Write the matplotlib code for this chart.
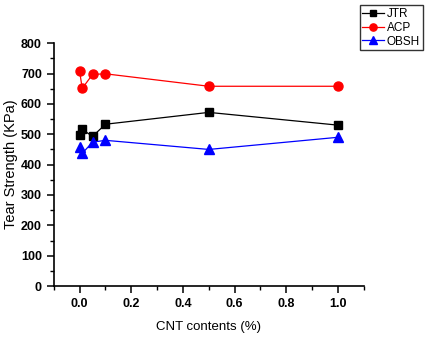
import matplotlib
matplotlib.use("Agg")
import matplotlib.pyplot as plt
from matplotlib.ticker import MultipleLocator

plt.rcParams['font.family'] = ['Liberation Sans', 'DejaVu Sans']

cnt = [0.0, 0.01, 0.05, 0.1, 0.5, 1.0]
jtr = [497, 516, 493, 533, 572, 530]
acp = [707, 651, 697, 699, 658, 658]
obsh = [457, 437, 474, 480, 450, 490]

fig = plt.figure(figsize=(4.27, 3.37), dpi=100)
ax = fig.add_axes([0.126, 0.151, 0.726, 0.721])

ax.plot(cnt, jtr, color='black', marker='s', ms=6, lw=0.9, label='JTR')
ax.plot(cnt, acp, color='red', marker='o', ms=6.5, lw=0.9, label='ACP')
ax.plot(cnt, obsh, color='blue', marker='^', ms=7, lw=0.9, label='OBSH')

ax.set_xlim(-0.1, 1.1)
ax.set_ylim(0, 800)
ax.xaxis.set_major_locator(MultipleLocator(0.2))
ax.xaxis.set_minor_locator(MultipleLocator(0.1))
ax.yaxis.set_major_locator(MultipleLocator(100))
ax.yaxis.set_minor_locator(MultipleLocator(50))
ax.xaxis.set_major_formatter(plt.FuncFormatter(lambda v, p: f"{v:.1f}"))

for s in ['top', 'right']:
    ax.spines[s].set_visible(False)
for s in ['left', 'bottom']:
    ax.spines[s].set_linewidth(1.2)

ax.tick_params(which='major', direction='out', length=5, width=1.1, labelsize=9)
ax.tick_params(which='minor', direction='out', length=3, width=1.0)
for lab in ax.get_xticklabels() + ax.get_yticklabels():
    lab.set_fontweight('bold')

ax.set_xlabel('CNT contents (%)', fontsize=9.5, labelpad=8)
ax.set_ylabel('Tear Strength (KPa)', fontsize=10.5, labelpad=2)

leg = fig.legend(loc='upper right', bbox_to_anchor=(0.99, 0.985), fontsize=8.5,
                 frameon=True, fancybox=False, edgecolor='black',
                 handlelength=1.8, handletextpad=0.25, borderpad=0.25,
                 labelspacing=0.15, borderaxespad=0, markerscale=0.8)
leg.get_frame().set_linewidth(1.0)

fig.savefig('out.png', dpi=100)
